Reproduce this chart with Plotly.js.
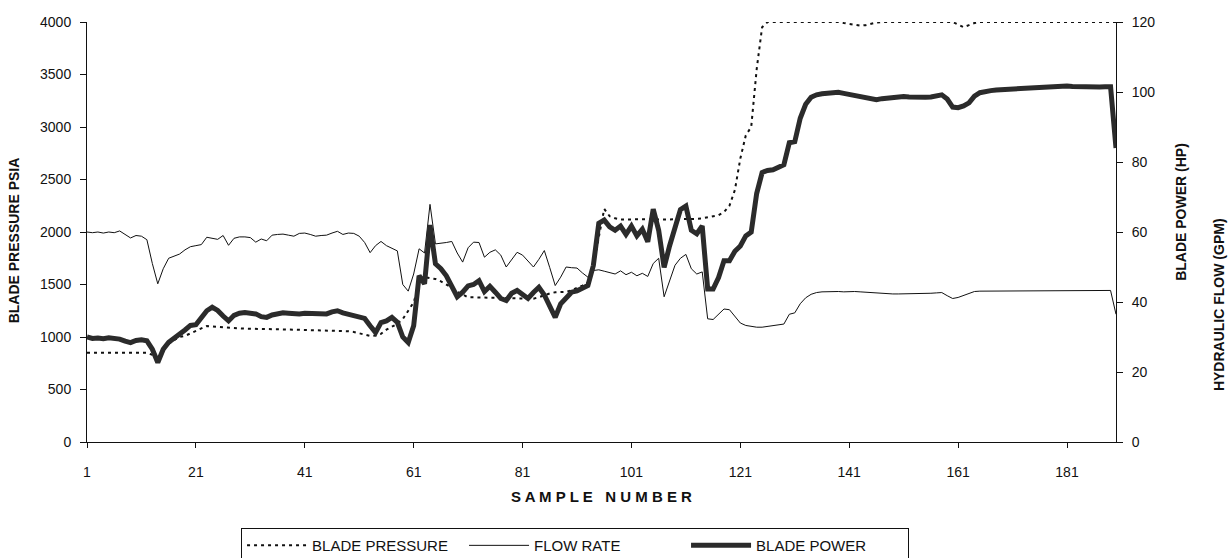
<!DOCTYPE html>
<html><head><meta charset="utf-8">
<script src="https://cdn.plot.ly/plotly-3.0.1.min.js"></script>
<style>html,body{margin:0;padding:0;background:#fff}#chart{width:1230px;height:558px}</style>
</head><body><div id="chart"></div>
<script>
// Blade pressure (psia), left axis
const bladePressure = [
850,850,850,850,850,850,850,850,850,850,
850,850,830,790,880,935,970,1000,1011,1035,
1060,1080,1105,1100,1095,1092,1090,1085,1082,1080,
1078,1076,1075,1075,1074,1073,1072,1071,1070,1069,
1068,1068,1067,1066,1064,1062,1060,1058,1055,1048,
1035,1020,1010,1015,1030,1070,1100,1125,1170,1250,
1330,1500,1569,1560,1553,1530,1500,1470,1430,1400,
1378,1378,1378,1378,1378,1375,1372,1370,1368,1365,
1362,1362,1365,1380,1400,1415,1426,1426,1430,1445,
1465,1490,1520,1650,1950,2220,2150,2130,2120,2118,
2120,2122,2120,2118,2120,2120,2118,2120,2120,2122,
2120,2120,2125,2130,2140,2145,2160,2190,2250,2400,
2700,2920,3000,3550,3950,4000,4000,4000,4000,4000,
4000,4000,4000,4000,4000,4000,4000,4000,4000,3990,
3980,3970,3965,3970,3985,3995,4000,4000,4000,4000,
4000,4000,4000,4000,4000,4000,4000,4000,4000,4000,
3975,3950,3970,3990,4000,4000,4000,4000,4000,4000,
4000,4000,4000,4000,4000,4000,4000,4000,4000,4000,
4000,4000,4000,4000,4000,4000,4000,4000,4000,4000
];
// Hydraulic flow rate (GPM), right axis
const flowRate = [
60,59.8,60,59.7,60,59.8,60.3,59.4,58.3,59,
58.8,57.8,51,45.2,49.5,52.5,53,53.7,54.9,55.8,
56.1,56.4,58.5,58.2,57.9,59,56.2,58.2,58.6,58.6,
58.4,57.1,58,57.5,59.1,59.3,59.4,59.1,58.8,59.6,
59.7,59.3,58.8,59,59.1,59.7,60.2,59.3,59.7,59.6,
58.8,57,54.1,56.1,57.3,56.1,55.4,54.6,45,43.1,
48,55.2,54,67.9,56.6,56.7,57,57.3,54,51.4,
55.5,57.1,57,52.8,54.2,54.9,53.4,50,52.2,54.2,
53.4,51.6,50,52.2,54.7,49.8,44.7,47.1,50,49.8,
49.7,48.3,47.1,49,49.2,48.8,48.5,48,48.9,47.8,
48.5,47.5,48.2,47.3,51,52.5,41.5,46,50.5,52.5,
53.6,49.5,48,48.6,35.2,35,36.5,38,37.8,36,
34,33.3,33,32.8,32.8,33,33.3,33.5,33.7,36.5,
36.9,39.5,41.2,42.2,42.7,42.9,43,43,43,42.9,
43,43,42.9,42.8,42.6,42.4,42.3,42.3,42.3,42.3,
42.3,42.3,42.4,42.4,42.4,42.5,42.6,42.7,41.8,41,
41.3,41.8,42.4,43,43.1,43.1,43.2,43.2,43.2,43.2,
43.2,43.3,43.3,43.3,43.3,43.3,43.3,43.3,43.3,43.3,
43.3,43.3,43.3,43.3,43.3,43.3,43.3,43.3,43.3,36.5
];
// Blade power (HP), right axis
const bladePower = [
30,29.6,29.7,29.5,29.8,29.6,29.4,28.8,28.4,29,
29.2,28.9,26.5,22.7,26.5,28.5,29.6,30.5,32,33.3,
33.5,35.5,37.5,38.5,37.6,36,34.6,36.2,36.8,37,
36.8,36.6,35.8,35.6,36.3,36.7,36.9,36.8,36.6,36.6,
36.8,36.7,36.5,36.4,36.6,37.2,37.5,36.9,36.5,36.2,
35.9,35.3,33.2,31.3,34.1,34.6,35.6,34.2,30,28.4,
33.2,47.5,45.2,62,50.9,49.5,47.5,44.2,41.5,42.8,
44.6,45,46.1,43,44.5,42.8,41,40.4,42.5,43.3,
42.2,41,42.7,44.2,42,38.5,35.6,39.5,41.3,42.8,
43.2,43.8,44.7,50.4,62.5,63.4,61.5,60.5,61.7,59.3,
61.7,58.9,60.8,57.2,66.5,60.5,49.9,56,61,66.4,
67.4,60.5,59.5,61.7,43.7,43.7,47,51.8,51.8,54.5,
56,58.9,60,71,77,77.6,77.8,78.4,79.2,85.5,
85.8,92.5,96.5,98.5,99.2,99.5,99.7,99.8,99.9,99.6,
99.3,99,98.8,98.5,98,97.8,98.1,98.3,98.5,98.6,
98.7,98.6,98.5,98.5,98.5,98.6,98.8,99.2,98,95.7,
95.5,96,96.9,98.8,99.8,100.2,100.4,100.6,100.7,100.8,
100.9,101,101.1,101.2,101.3,101.4,101.4,101.5,101.6,101.7,
101.7,101.6,101.5,101.4,101.4,101.4,101.4,101.5,101.5,84
];
const xTicks = [1,21,41,61,81,101,121,141,161,181];
const leftTicks = [0,500,1000,1500,2000,2500,3000,3500,4000];
const rightTicks = [0,20,40,60,80,100,120];
const sampleNumber = bladePressure.map((_, i) => i + 1);

const FONT = 'Liberation Sans, Arial, sans-serif';
const traces = [
  {x: sampleNumber, y: bladePressure, name: 'BLADE PRESSURE', type: 'scatter', mode: 'lines',
   line: {color: '#111', width: 2, dash: '3px,4px'}, yaxis: 'y'},
  {x: sampleNumber, y: flowRate, name: 'FLOW RATE', type: 'scatter', mode: 'lines',
   line: {color: '#111', width: 1}, yaxis: 'y2'},
  {x: sampleNumber, y: bladePower, name: 'BLADE POWER', type: 'scatter', mode: 'lines',
   line: {color: '#2b2b2b', width: 5}, yaxis: 'y2'}
];
const layout = {
  width: 1230, height: 558,
  margin: {l: 87, r: 114, t: 22, b: 116, autoexpand: false},
  paper_bgcolor: '#fff', plot_bgcolor: '#fff',
  font: {family: FONT, size: 14, color: '#111'},
  showlegend: true,
  legend: {orientation: 'h', x: 0.1497, y: -0.205, xanchor: 'left', yanchor: 'top',
           bordercolor: '#111', borderwidth: 1, bgcolor: '#fff', itemwidth: 60,
           entrywidth: 147, entrywidthmode: 'pixels',
           font: {family: FONT, size: 15, color: '#111'}, traceorder: 'normal'},
  xaxis: {range: [1, 190], tickvals: xTicks, ticktext: xTicks.map(String),
          showgrid: false, zeroline: false, showline: true, linecolor: '#111', linewidth: 1,
          ticks: 'outside', ticklen: 5, tickcolor: '#111', ticklabelstandoff: 12,
          tickfont: {family: FONT, size: 14},
          title: {text: '<b>S A M P L E &nbsp; N U M B E R</b>', font: {family: FONT, size: 15}, standoff: 12}},
  yaxis: {range: [0, 4000], tickvals: leftTicks, showgrid: false, zeroline: false,
          showline: true, linecolor: '#111', linewidth: 1, ticks: 'outside', ticklen: 6, tickcolor: '#111',
          ticklabelstandoff: 6, tickfont: {family: FONT, size: 14}},
  yaxis2: {range: [0, 120], tickvals: rightTicks, overlaying: 'y', side: 'right',
           showgrid: false, zeroline: false, showline: true, linecolor: '#111', linewidth: 1,
           ticks: 'outside', ticklen: 6, tickcolor: '#111', ticklabelstandoff: 6,
           tickfont: {family: FONT, size: 14}},
  annotations: [
    {text: '<b>BLADE PRESSURE PSIA</b>', xref: 'paper', yref: 'paper', x: -0.071, y: 0.48,
     xanchor: 'center', yanchor: 'middle', showarrow: false, textangle: -90, font: {family: FONT, size: 14}},
    {text: '<b>BLADE POWER (HP)</b>', xref: 'paper', yref: 'paper', x: 1.0632, y: 0.548,
     xanchor: 'center', yanchor: 'middle', showarrow: false, textangle: -90, font: {family: FONT, size: 14}},
    {text: '<b>HYDRAULIC FLOW (GPM)</b>', xref: 'paper', yref: 'paper', x: 1.1001, y: 0.326,
     xanchor: 'center', yanchor: 'middle', showarrow: false, textangle: -90, font: {family: FONT, size: 14}}
  ]
};
Plotly.newPlot('chart', traces, layout, {displayModeBar: false, staticPlot: true});
</script></body></html>
